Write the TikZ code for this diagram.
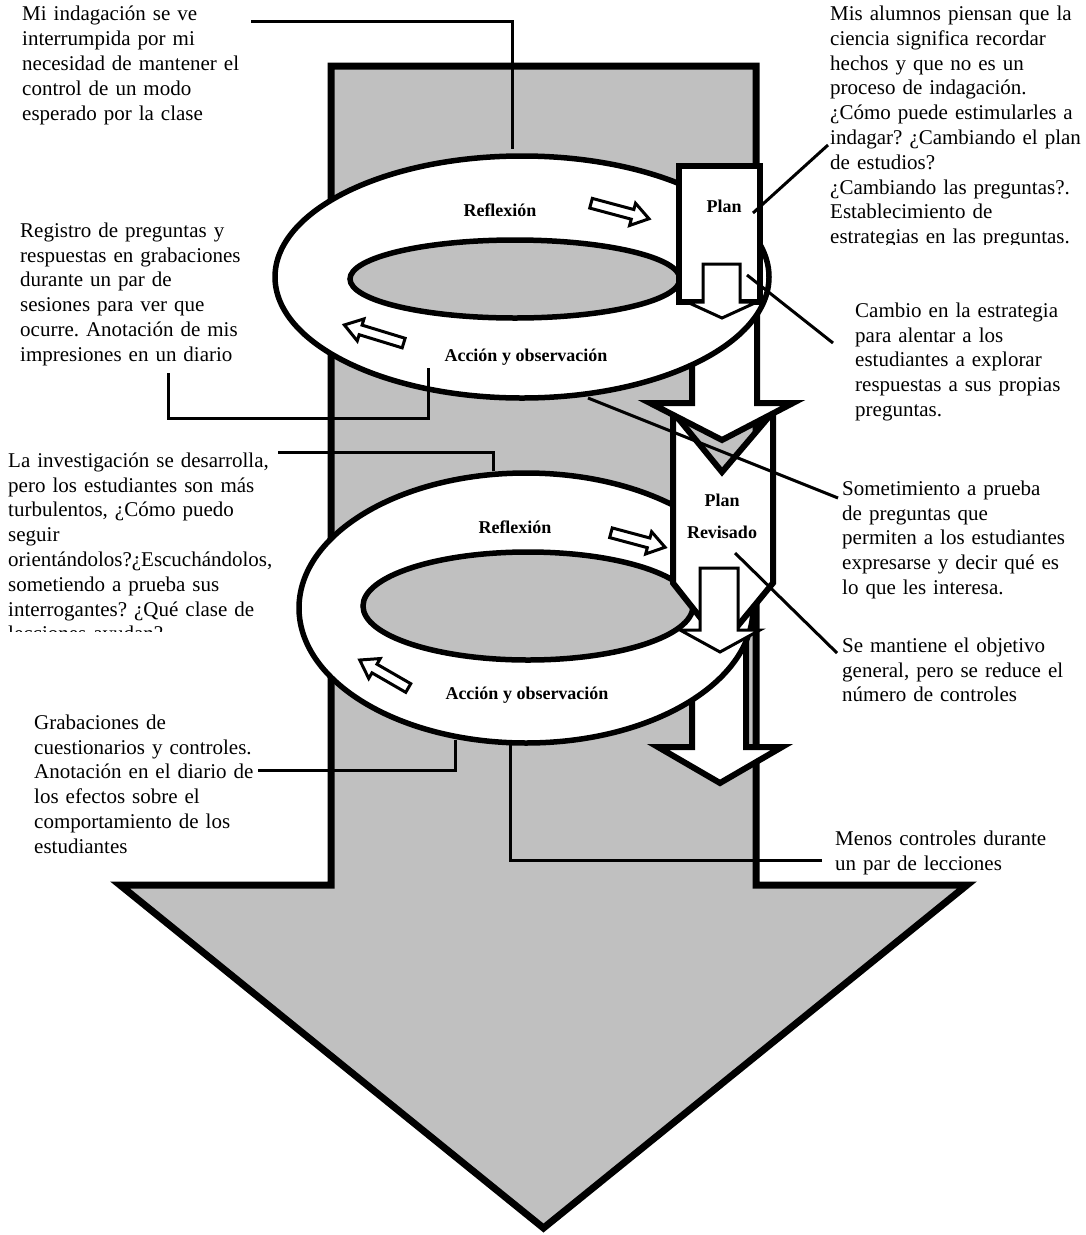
\documentclass[tikz,border=0pt]{standalone}
\usepackage{fontspec}
\setmainfont{Liberation Serif}
\frenchspacing
\definecolor{shaftgray}{RGB}{192,192,192}
\newcommand\ntfont{\fontsize{21}{24.8}\selectfont}
\newcommand\tgfont{\fontsize{18}{21}\selectfont\bfseries}
% hollow block arrow: centre x, centre y, angle, length
\newcommand\cyclearrow[4]{%
  \draw[thinshape, shift={(#1,#2)}, rotate=#3]
    (-#4/2,-5) -- (#4/2-17,-5) -- (#4/2-17,-11.5) -- (#4/2,0)
    -- (#4/2-17,11.5) -- (#4/2-17,5) -- (-#4/2,5) -- cycle;}

\begin{document}
\begin{tikzpicture}[x=1pt, y=-1pt,
  grayshape/.style={draw=black, fill=shaftgray, line width=7pt, line join=miter},
  whiteshape/.style={draw=black, fill=white, line width=6pt, line join=miter},
  ringline/.style={draw=black, line width=5.5pt},
  thinshape/.style={draw=black, fill=white, line width=3pt, line join=miter},
  leader/.style={draw=black, line width=3pt, line join=miter},
  note/.style={anchor=north west, inner sep=0pt, text width=300pt, align=left, font=\ntfont},
  tag/.style={inner sep=0pt, font=\tgfont}
]
\fill[white] (0,0) rectangle (1086,1235);
\useasboundingbox (0,0) rectangle (1086,1235);

% large grey arrow in the background
\draw[grayshape] (331,66) -- (756,66) -- (756,885) -- (967,885) -- (543.5,1228)
  -- (120,885) -- (331,885) -- cycle;

% lower white block arrow
\draw[whiteshape] (692,590) -- (692,747) -- (658,747) -- (720,783) -- (782,747)
  -- (746,747) -- (746,590) -- cycle;

% lower cycle ring
\draw[ringline, fill=white] (526,608) ellipse [x radius=227pt, y radius=135pt];
\draw[ringline, fill=shaftgray] (528,606) ellipse [x radius=165pt, y radius=54pt];

% revised plan chevron
\draw[whiteshape] (673,412) -- (722,472) -- (773,412) -- (773,583) -- (722,645)
  -- (673,583) -- cycle;
\draw[thinshape] (700,568) -- (738,568) -- (738,630) -- (760,630) -- (720,652)
  -- (680,630) -- (700,630) -- cycle;

% upper white block arrow
\draw[whiteshape] (692,290) -- (692,403) -- (650,403) -- (722,440) -- (793,403)
  -- (757,403) -- (757,290) -- cycle;

% upper cycle ring
\draw[ringline, fill=white] (522,277) ellipse [x radius=247pt, y radius=121pt];
\draw[ringline, fill=shaftgray] (515,279) ellipse [x radius=165pt, y radius=39pt];

% plan box
\draw[whiteshape] (679,166) rectangle (760,302);
\draw[thinshape] (703,264) -- (740,264) -- (740,302) -- (757,302) -- (722,318)
  -- (687,302) -- (703,302) -- cycle;

% arrows showing the direction of each cycle
\cyclearrow{620}{211}{-15}{60}
\cyclearrow{374}{334}{163}{62}
\cyclearrow{638}{540}{-15}{56}
\cyclearrow{384}{674}{150}{56}

% stage labels
\node[tag] (refl1) at (500,210) {Reflexión};
\node[tag] (acc1) at (526,357) {Acción y observación};
\node[tag] (plan1) at (724,206) {Plan};
\node[tag] (refl2) at (515,527) {Reflexión};
\node[tag] (acc2) at (527,695) {Acción y observación};
\node[tag] (plan2) at (722,500) {Plan};
\node[tag] (rev2) at (722,532) {Revisado};

% annotations
\node[note] (tA) at (22,3.3) {\strut Mi indagación se ve\\interrumpida por mi\\necesidad de mantener el\\control de un modo\\esperado por la clase};
\begin{scope}
  \clip (820,0) rectangle (1086,244);
  \node[note] (tB) at (830,3) {\strut Mis alumnos piensan que la\\ciencia significa recordar\\hechos y que no es un\\proceso de indagación.\\¿Cómo puede estimularles a\\indagar? ¿Cambiando el plan\\de estudios?\\¿Cambiando las preguntas?.\\Establecimiento de\\estrategias en las preguntas.};
\end{scope}
\node[note] (tC) at (20,219.7) {\strut Registro de preguntas y\\respuestas en grabaciones\\durante un par de\\sesiones para ver que\\ocurre. Anotación de mis\\impresiones en un diario};
\node[note] (tD) at (855,299.7) {\strut Cambio en la estrategia\\para alentar a los\\estudiantes a explorar\\respuestas a sus propias\\preguntas.};
\begin{scope}
  \clip (0,440) rectangle (320,631);
  \node[note] (tE) at (8,449.7) {\strut La investigación se desarrolla,\\pero los estudiantes son más\\turbulentos, ¿Cómo puedo\\seguir\\orientándolos?¿Escuchándolos,\\sometiendo a prueba sus\\interrogantes? ¿Qué clase de\\lecciones ayudan?};
\end{scope}
\node[note] (tF) at (842,477.7) {\strut Sometimiento a prueba\\de preguntas que\\permiten a los estudiantes\\expresarse y decir qué es\\lo que les interesa.};
\node[note] (tG) at (842,634.7) {\strut Se mantiene el objetivo\\general, pero se reduce el\\número de controles};
\node[note] (tH) at (34,711.7) {\strut Grabaciones de\\cuestionarios y controles.\\Anotación en el diario de\\los efectos sobre el\\comportamiento de los\\estudiantes};
\node[note] (tI) at (835,827.7) {\strut Menos controles durante\\un par de lecciones};

% leader lines
\coordinate (l1a) at (251,21);   \coordinate (l1b) at (512,149);
\coordinate (l2a) at (753,213);  \coordinate (l2b) at (828,145);
\coordinate (l3a) at (168,373);  \coordinate (l3b) at (428,418); \coordinate (l3c) at (428,368);
\coordinate (l4a) at (747,275);  \coordinate (l4b) at (833,343);
\coordinate (l5a) at (588,398);  \coordinate (l5b) at (838,498);
\coordinate (l6a) at (278,452);  \coordinate (l6b) at (493,471);
\coordinate (l7a) at (735,553);  \coordinate (l7b) at (837,653);
\coordinate (l8a) at (258,770);  \coordinate (l8b) at (455,740);
\coordinate (l9a) at (822,860);  \coordinate (l9b) at (510,745);

\draw[leader] (l1a) -| (l1b);
\draw[leader] (l2a) -- (l2b);
\draw[leader] (l3a) |- (l3b) -- (l3c);
\draw[leader] (l4a) -- (l4b);
\draw[leader] (l5a) -- (l5b);
\draw[leader] (l6a) -| (l6b);
\draw[leader] (l7a) -- (l7b);
\draw[leader] (l8a) -| (l8b);
\draw[leader] (l9a) -| (l9b);
\end{tikzpicture}
\end{document}
